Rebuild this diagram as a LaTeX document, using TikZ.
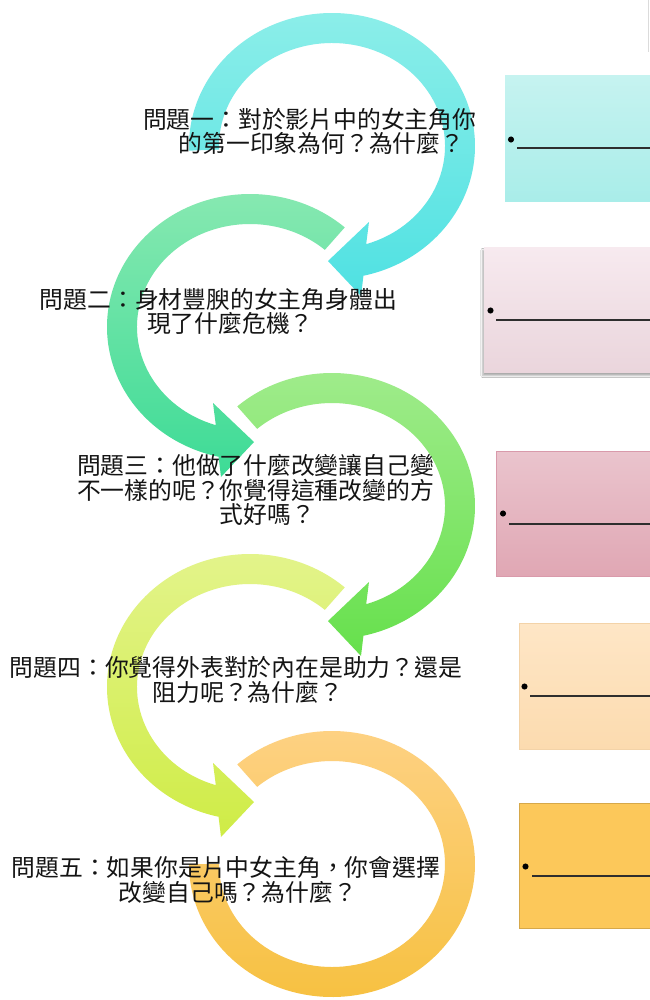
\documentclass[tikz,border=0pt]{standalone}
\usepackage{fontspec}
\newfontfamily\cjkfont{Noto Sans CJK TC}
\usetikzlibrary{shadows.blur}
\definecolor{cyanT}{HTML}{8CEEE9}
\definecolor{cyanB}{HTML}{4FE1E2}
\definecolor{mintT}{HTML}{8AE9B2}
\definecolor{mintB}{HTML}{3DDB96}
\definecolor{lgrT}{HTML}{A2EC8E}
\definecolor{lgrB}{HTML}{66E04C}
\definecolor{ylwT}{HTML}{E4F48E}
\definecolor{ylwB}{HTML}{CFEC46}
\definecolor{orgT}{HTML}{FED286}
\definecolor{orgB}{HTML}{F6C03E}
\definecolor{box1T}{HTML}{C6F3F0}
\definecolor{box1B}{HTML}{A9EDE9}
\definecolor{box2T}{HTML}{F7EAEF}
\definecolor{box2B}{HTML}{EAD5DC}
\definecolor{box3T}{HTML}{EAC4CD}
\definecolor{box3B}{HTML}{E0A7B4}
\definecolor{box3D}{HTML}{D99AAB}
\definecolor{box4T}{HTML}{FEE6C6}
\definecolor{box4B}{HTML}{FCDBAF}
\definecolor{box4D}{HTML}{F3D3A8}
\definecolor{box5F}{HTML}{FCC85A}
\definecolor{box5D}{HTML}{D6A84A}
\begin{document}
\begin{tikzpicture}[x=0.75pt,y=-0.75pt,
  qtext/.style={font=\cjkfont\fontsize{17.85pt}{18.4pt}\selectfont, align=center, inner sep=0pt, text=black!92},
  ansbox/.style={rectangle, inner sep=0pt, outer sep=0pt},
  dotmark/.style={circle, fill=black, inner sep=0pt, minimum size=4.6pt},
  ansline/.style={line width=1.5pt, draw=black!82},
]
\useasboundingbox (0,0) rectangle (650,1000);
\clip (0,0) rectangle (650,1000);
\fill[white] (0,0) rectangle (650,1000);

% ---- arrow 1 (cyan, clockwise)
\begin{scope}[shift={(332,146)}]
\shade[top color=cyanT, bottom color=cyanB]
  (-182:143 and 133) arc[start angle=-182, end angle=77.3, x radius=143, y radius=133]
  -- (29,150) -- (-4,115) -- (37,76)
  -- (72.4:113 and 103) arc[start angle=72.4, end angle=-182, x radius=113, y radius=103] -- cycle;
\end{scope}
% ---- arrow 2 (mint, counter-clockwise)
\begin{scope}[shift={(250,327)}, xscale=-1]
\shade[top color=mintT, bottom color=mintB]
  (-131.5:143 and 133) arc[start angle=-131.5, end angle=77.3, x radius=143, y radius=133]
  -- (29,150) -- (-4,115) -- (37,76)
  -- (72.4:113 and 103) arc[start angle=72.4, end angle=-131.5, x radius=113, y radius=103] -- cycle;
\end{scope}
% ---- arrow 3 (light green, clockwise)
\begin{scope}[shift={(332,506)}]
\shade[top color=lgrT, bottom color=lgrB]
  (-131.5:143 and 133) arc[start angle=-131.5, end angle=77.3, x radius=143, y radius=133]
  -- (29,150) -- (-4,115) -- (37,76)
  -- (72.4:113 and 103) arc[start angle=72.4, end angle=-131.5, x radius=113, y radius=103] -- cycle;
\end{scope}
% ---- arrow 4 (yellow green, counter-clockwise)
\begin{scope}[shift={(250,687)}, xscale=-1]
\shade[top color=ylwT, bottom color=ylwB]
  (-131.5:143 and 133) arc[start angle=-131.5, end angle=77.3, x radius=143, y radius=133]
  -- (29,150) -- (-4,115) -- (37,76)
  -- (72.4:113 and 103) arc[start angle=72.4, end angle=-131.5, x radius=113, y radius=103] -- cycle;
\end{scope}
% ---- ring 5 (orange, no head)
\begin{scope}[shift={(332,864)}]
\shade[top color=orgT, bottom color=orgB]
  (-131.5:143 and 133) arc[start angle=-131.5, end angle=180, x radius=143, y radius=133]
  -- (180:113 and 103) arc[start angle=180, end angle=-131.5, x radius=113, y radius=103] -- cycle;
\end{scope}

% ---- answer boxes
\node[ansbox, minimum width=112.5pt, minimum height=94.5pt, top color=box1T, bottom color=box1B] (b1) at (580,138) {};
\node[ansbox, minimum width=128.25pt, minimum height=93.75pt, top color=box2T, bottom color=box2B,
      blur shadow={shadow xshift=-0.8pt, shadow yshift=-2.6pt, shadow blur radius=1.6pt, shadow opacity=35}] (b2) at (569.5,309.5) {};
\node[ansbox, minimum width=119.25pt, minimum height=93.75pt, top color=box3T, bottom color=box3B, draw=box3D, line width=0.6pt] (b3) at (575.5,513.5) {};
\node[ansbox, minimum width=102pt, minimum height=94.5pt, top color=box4T, bottom color=box4B, draw=box4D, line width=0.5pt] (b4) at (587,686) {};
\node[ansbox, minimum width=102pt, minimum height=93.75pt, fill=box5F, draw=box5D, line width=0.7pt] (b5) at (587,865.5) {};

% ---- bullets and answer lines
\node[dotmark] (d1) at (511,139.5) {};
\node[dotmark] (d2) at (490.5,310.5) {};
\node[dotmark] (d3) at (503,513.5) {};
\node[dotmark] (d4) at (524.5,686.5) {};
\node[dotmark] (d5) at (525.5,866.5) {};
\coordinate (l1s) at (517,148);   \coordinate (l1e) at (660,148);
\coordinate (l2s) at (496,319.5); \coordinate (l2e) at (660,319.5);
\coordinate (l3s) at (509,523.5); \coordinate (l3e) at (660,523.5);
\coordinate (l4s) at (530,696);   \coordinate (l4e) at (660,696);
\coordinate (l5s) at (532,876);   \coordinate (l5e) at (660,876);
\draw[ansline] (l1s) -- (l1e);
\draw[ansline] (l2s) -- (l2e);
\draw[ansline] (l3s) -- (l3e);
\draw[ansline] (l4s) -- (l4e);
\draw[ansline] (l5s) -- (l5e);

% faint edge at top right
\coordinate (e1) at (648.5,0); \coordinate (e2) at (648.5,52);
\draw[black!14, line width=0.8pt] (e1) -- (e2);

% ---- question texts
\node[qtext] (q1) at (309.6,131.5) {問題一：對於影片中的女主角你\\\hspace*{1em}的第一印象為何？為什麼？};
\node[qtext] (q2) at (218.5,311.5) {問題二：身材豐腴的女主角身體出\\\hspace*{1em}現了什麼危機？};
\node[qtext] (q3) at (255.5,490) {問題三：他做了什麼改變讓自己變\\不一樣的呢？你覺得這種改變的方\\\hspace*{1em}式好嗎？};
\node[qtext] (q4) at (236,680) {問題四：你覺得外表對於內在是助力？還是\\\hspace*{1em}阻力呢？為什麼？};
\node[qtext] (q5) at (226,880) {問題五：如果你是片中女主角，你會選擇\\\hspace*{1em}改變自己嗎？為什麼？};
\end{tikzpicture}
\end{document}
